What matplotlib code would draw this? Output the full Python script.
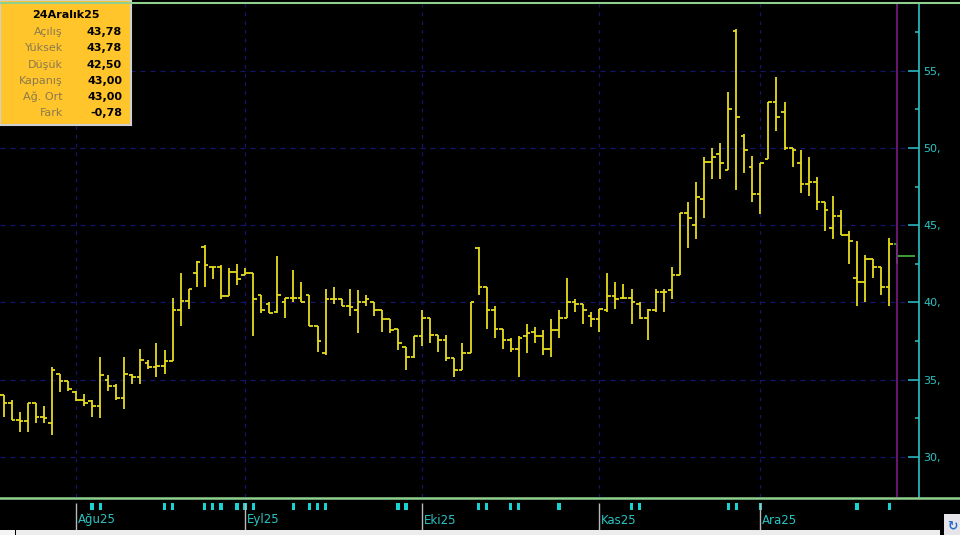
import matplotlib
matplotlib.use("Agg")
import matplotlib.pyplot as plt
from matplotlib.lines import Line2D
from matplotlib.patches import Rectangle
import pandas as pd

W, H = 960, 535

# daily OHLC, 21 Jul 2025 - 24 Dec 2025 (one row per trading day)
opens = [34.0, 33.5, 32.4, 32.3, 33.5, 32.6, 32.2, 35.4, 34.9, 34.2,
         33.7, 33.6, 33.3, 35.0, 34.6, 33.8, 35.3, 35.2, 36.1, 35.8,
         35.9, 36.2, 39.5, 40.1, 41.9, 43.6, 42.3, 42.3, 40.4, 42.0,
         41.8, 41.9, 40.5, 39.9, 39.4, 40.05, 40.3, 40.3, 40.5, 38.5,
         36.7, 40.2, 40.2, 39.8, 39.5, 40.05, 40.0, 39.5, 38.9, 38.3,
         37.1, 36.5, 37.8, 39.0, 37.9, 37.6, 36.4, 35.6, 36.7, 43.5,
         41.0, 39.5, 38.3, 37.6, 37.0, 37.8, 38.1, 37.8, 37.0, 38.2,
         39.0, 40.05, 39.9, 39.1, 38.9, 39.5, 40.4, 40.3, 40.3, 39.9,
         39.0, 39.5, 40.7, 40.8, 41.8, 45.8, 45.0, 46.7, 49.1, 49.6,
         48.6, 57.6, 50.8, 48.8, 47.0, 49.3, 53.0, 52.3, 50.0, 49.0,
         47.7, 47.8, 46.5, 44.8, 45.6, 44.4, 41.6, 41.3, 42.8, 42.3,
         41.0, 43.78]
highs = [34.0, 33.7, 32.9, 33.5, 33.5, 33.3, 35.85, 35.4, 34.9, 34.3,
         34.1, 33.7, 36.5, 35.3, 34.7, 36.5, 35.4, 37.0, 36.3, 37.4,
         36.9, 40.3, 41.9, 40.9, 42.7, 43.7, 42.3, 42.4, 42.2, 42.5,
         42.2, 41.9, 40.5, 40.05, 43.0, 40.3, 42.1, 41.3, 40.5, 38.5,
         40.9, 41.0, 40.2, 40.9, 40.8, 40.5, 40.0, 39.5, 38.9, 38.3,
         37.1, 37.8, 39.5, 39.0, 37.9, 37.9, 36.4, 37.4, 40.05, 43.6,
         41.0, 39.8, 38.3, 37.7, 37.8, 38.6, 38.4, 38.2, 38.9, 39.5,
         41.6, 40.2, 39.9, 39.4, 39.6, 41.9, 41.3, 41.2, 40.9, 40.05,
         39.6, 40.9, 40.9, 42.3, 45.8, 46.5, 47.8, 49.4, 50.0, 50.3,
         53.6, 57.7, 50.9, 49.5, 49.0, 53.0, 54.6, 53.0, 50.0, 49.9,
         49.4, 48.1, 46.5, 46.9, 46.0, 44.6, 44.0, 43.1, 42.8, 42.3,
         44.15, 43.78]
lows = [32.6, 32.4, 31.6, 31.6, 32.2, 32.2, 31.4, 34.2, 34.3, 33.6,
        33.3, 32.6, 32.5, 34.3, 33.7, 33.1, 34.7, 34.7, 35.7, 35.2,
        35.4, 36.2, 38.5, 39.6, 41.0, 41.0, 41.5, 40.2, 40.4, 41.1,
        41.8, 37.8, 39.3, 39.3, 39.3, 39.0, 40.05, 40.05, 38.5, 36.8,
        36.6, 39.9, 39.8, 39.1, 38.0, 39.8, 39.1, 38.1, 38.0, 36.9,
        35.6, 36.4, 37.2, 37.4, 36.8, 36.2, 35.2, 35.6, 36.7, 40.5,
        38.3, 37.7, 37.0, 36.8, 35.2, 36.7, 37.4, 36.6, 36.5, 37.7,
        39.0, 39.4, 38.6, 38.4, 38.1, 39.4, 39.6, 40.2, 38.6, 38.9,
        37.6, 39.4, 39.4, 40.2, 41.8, 43.5, 44.1, 45.5, 48.0, 48.0,
        48.6, 47.3, 48.4, 46.5, 45.7, 49.3, 51.1, 49.9, 48.8, 47.1,
        46.9, 46.0, 44.6, 44.1, 44.4, 42.5, 39.8, 40.05, 41.6, 40.5,
        39.8, 42.50]
closes = [33.5, 32.4, 32.3, 33.5, 32.6, 32.5, 35.6, 34.9, 34.4, 33.7,
          33.5, 33.3, 35.3, 34.6, 33.8, 35.4, 35.2, 36.3, 35.8, 35.9,
          36.2, 39.5, 40.1, 40.9, 42.6, 42.4, 42.3, 40.4, 42.0, 41.5,
          41.9, 40.2, 39.5, 39.3, 40.5, 40.3, 40.3, 40.05, 38.5, 37.5,
          40.2, 40.2, 39.8, 39.7, 40.05, 40.2, 39.5, 38.9, 38.2, 37.4,
          36.5, 37.8, 39.0, 37.9, 37.6, 36.4, 35.6, 36.7, 40.0, 41.0,
          39.5, 38.3, 37.6, 37.0, 37.7, 38.0, 37.8, 37.0, 38.2, 39.0,
          40.05, 39.9, 39.5, 38.9, 39.6, 40.4, 40.2, 40.3, 40.05, 39.0,
          39.5, 40.7, 40.7, 41.8, 45.8, 45.5, 46.8, 49.1, 49.4, 49.0,
          52.5, 52.0, 49.9, 47.0, 49.0, 53.0, 52.0, 50.0, 49.9, 47.7,
          47.8, 46.5, 46.0, 45.6, 44.4, 44.0, 41.3, 42.8, 42.3, 41.0,
          43.78, 43.00]

month_labels = ["Ağu25", "Eyl25", "Eki25", "Kas25", "Ara25"]
price_ticks = [30, 35, 40, 45, 50, 55]
# bars that carry a news marker in the date strip
marker_bars = [11, 12, 20, 21, 25, 26, 27, 29, 30, 31, 36, 38, 39, 40,
               49, 50, 59, 60, 63, 64, 69, 78, 79, 90, 91, 94, 106, 110]

info_title = "24Aralık25"
info_labels = ["Açılış", "Yüksek", "Düşük", "Kapanış", "Ağ. Ort", "Fark"]
info_values = ["43,78", "43,78", "42,50", "43,00", "43,00", "-0,78"]

dates = pd.bdate_range("2025-07-21", "2025-12-24")
dates = dates[dates != pd.Timestamp("2025-10-29")]
month_start = [i for i in range(1, len(dates)) if dates[i].month != dates[i - 1].month]

YEL = "#e6dc1e"
CYAN = "#2cc3c3"
GRID = "#15156e"
x = list(range(len(closes)))
n = len(closes)

fig = plt.figure(figsize=(W / 100, H / 100), dpi=100, facecolor="black")

def fy(py):  # pixel row -> figure fraction
    return 1 - py / H

ax = fig.add_axes([0, fy(497), 919 / W, (497 - 4) / H], facecolor="black")
ax.set_xlim(-0.435, 113.7)
ax.set_ylim(27.41, 59.32)

for i in month_start:
    ax.axvline(i, color=GRID, lw=0.9, ls=(0, (3, 4)), zorder=1)
for v in price_ticks:
    ax.axhline(v, color=GRID, lw=0.9, ls=(0, (4, 4)), zorder=1)

tick = 0.45
xs, o, h, l, c = x[:-1], opens[:-1], highs[:-1], lows[:-1], closes[:-1]
ax.vlines(xs, l, h, color=YEL, lw=1.3, zorder=3)
ax.hlines(o, [v - tick for v in xs], xs, color=YEL, lw=1.3, zorder=3)
ax.hlines(c, xs, [v + tick for v in xs], color=YEL, lw=1.3, zorder=3)

last = n - 1
ax.vlines(last, lows[last], highs[last], color="#3fae3a", lw=1.3, zorder=3)
ax.hlines(opens[last], last - tick, last, color="#3fae3a", lw=1.3, zorder=3)
ax.hlines(closes[last], last, last + 2.2, color="#3fae3a", lw=1.3, zorder=3)
ax.axvline(last, color="#7e1a84", lw=1.2, zorder=4)

for s in ["top", "bottom", "left"]:
    ax.spines[s].set_visible(False)
ax.spines["right"].set_color(CYAN)
ax.spines["right"].set_linewidth(1.2)
ax.set_xticks([])
ax.yaxis.tick_right()
ax.set_yticks(price_ticks)
ax.set_yticklabels([f"{v}," for v in price_ticks])
ax.set_yticks([v + 2.5 for v in [27.5] + price_ticks[:-1]] + [57.5], minor=True)
ax.tick_params(axis="y", which="major", direction="in", length=8, width=1.1,
               color=CYAN, labelcolor=CYAN, labelsize=8, pad=3)
ax.tick_params(axis="y", which="minor", direction="in", length=3, width=1.1, color=CYAN)

# date strip with month separators and news markers
ds = fig.add_axes([0, fy(530), 919 / W, (530 - 498) / H], facecolor="black")
ds.set_xlim(ax.get_xlim())
ds.set_ylim(32, 0)  # pixel rows below the chart, top = 0
ds.axis("off")
for i, lab in zip(month_start, month_labels):
    ds.vlines(i, 5, 32, color="#b8b8b8", lw=1.0)
    ds.text(i + 0.25, 22, lab, color=CYAN, fontsize=8.5, va="center", ha="left")
for i in marker_bars:
    ds.add_patch(Rectangle((i - 0.2, 5), 0.4, 7, color="#19d3d3", lw=0))

# borders and bottom widgets
fig.add_artist(Line2D([0, 1], [fy(2.5), fy(2.5)], color="#8fd08f", lw=1.5))
fig.add_artist(Line2D([0, 1], [fy(498), fy(498)], color="#8fd08f", lw=1.8))
fig.add_artist(Rectangle((16 / W, 0), 924 / W, fy(530), color="#ececec", lw=0))
fig.add_artist(Rectangle((0, 0), 15 / W, fy(530), color="#f4f4f4", lw=0))
fig.add_artist(Rectangle((944 / W, 0), 16 / W, fy(514), color="#e6e6ea", lw=0))
fig.text(952 / W, fy(526), "\u21bb", color="#2a6ad0", fontsize=9, ha="center", va="center",
         fontweight="bold")

# info box
bx = fig.add_axes([0, fy(125), 131 / W, 125 / H], facecolor="#ffc52b")
bx.set_xlim(0, 131)
bx.set_ylim(125, 0)
bx.set_xticks([])
bx.set_yticks([])
for s in bx.spines.values():
    s.set_color("#d0d0d0")
    s.set_linewidth(1.5)
bx.text(66, 15, info_title, fontsize=8, fontweight="bold", color="black",
        ha="center", va="center")
rows_y = [32, 48, 65, 81, 97, 113]
for yy, lab, val in zip(rows_y, info_labels, info_values):
    bx.text(63, yy, lab, fontsize=8, color="#8c7a4e", ha="right", va="center")
    bx.text(122, yy, val, fontsize=8, fontweight="bold", color="black", ha="right", va="center")

fig.savefig("out.png", dpi=100, facecolor="black")
